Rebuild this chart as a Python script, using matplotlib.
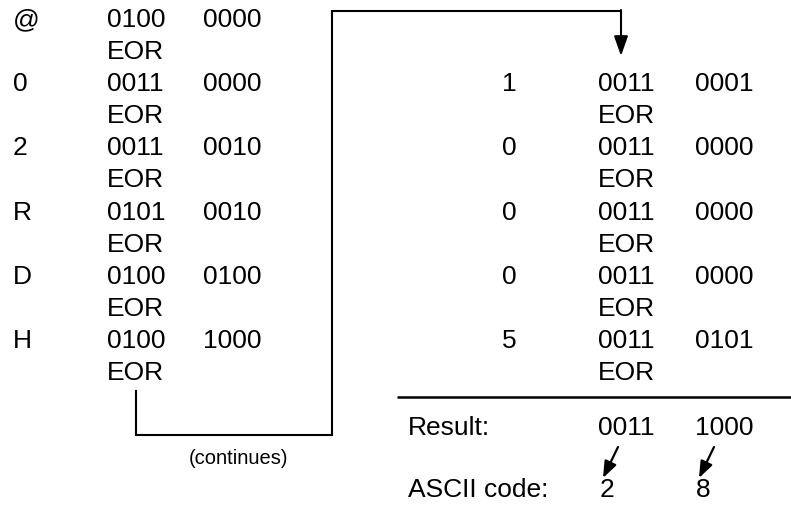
import matplotlib.pyplot as plt

# characters and their two nibbles (left block)
chars = ['@', '0', '2', 'R', 'D', 'H']
high_nibbles = ['0100', '0011', '0011', '0101', '0100', '0100']
low_nibbles = ['0000', '0000', '0010', '0010', '0100', '1000']

# continued block (right)
cont_chars = ['1', '0', '0', '0', '5']
cont_high = ['0011', '0011', '0011', '0011', '0011']
cont_low = ['0001', '0000', '0000', '0000', '0101']

result = ['0011', '1000']
ascii_code = ['2', '8']

plt.rcParams['font.family'] = ['Liberation Sans', 'DejaVu Sans']
fs = 19

fig = plt.figure(figsize=(7.91, 5.08), dpi=100)
ax = fig.add_axes([0, 0, 1, 1])
ax.set_xlim(0, 791)
ax.set_ylim(508, 0)
ax.axis('off')

row_y0 = 27      # baseline of first row
row_step = 64.2
eor_step = 32

# left block
for i, (c, h, l) in enumerate(zip(chars, high_nibbles, low_nibbles)):
    y = row_y0 + i * row_step
    ax.text(13, y, c, fontsize=fs, va='baseline', ha='left')
    ax.text(107, y, h, fontsize=fs, va='baseline', ha='left')
    ax.text(203, y, l, fontsize=fs, va='baseline', ha='left')
    ax.text(107, y + eor_step, 'EOR', fontsize=fs, va='baseline', ha='left')

# right block, starts one row lower
for i, (c, h, l) in enumerate(zip(cont_chars, cont_high, cont_low)):
    y = row_y0 + (i + 1) * row_step
    ax.text(509, y, c, fontsize=fs, va='baseline', ha='center')
    ax.text(598, y, h, fontsize=fs, va='baseline', ha='left')
    ax.text(695, y, l, fontsize=fs, va='baseline', ha='left')
    ax.text(598, y + eor_step, 'EOR', fontsize=fs, va='baseline', ha='left')

# separator line
ax.plot([397, 791], [397, 397], color='black', lw=1.8, solid_capstyle='butt')

# result and ascii rows
ax.text(408, 435, 'Result:', fontsize=fs, va='baseline', ha='left')
ax.text(598, 435, result[0], fontsize=fs, va='baseline', ha='left')
ax.text(695, 435, result[1], fontsize=fs, va='baseline', ha='left')
ax.text(408, 497, 'ASCII code:', fontsize=fs, va='baseline', ha='left')
ax.text(600, 497, ascii_code[0], fontsize=fs, va='baseline', ha='left')
ax.text(696, 497, ascii_code[1], fontsize=fs, va='baseline', ha='left')

small_arrow = dict(arrowstyle='-|>,head_length=1.0,head_width=0.38', lw=1.6,
                   color='black', shrinkA=0, shrinkB=0)
ax.annotate('', xy=(603, 478), xytext=(618, 447), arrowprops=small_arrow)
ax.annotate('', xy=(699, 478), xytext=(714, 447), arrowprops=small_arrow)

# connector from left block to right block
ax.plot([136, 136, 332, 332, 621], [391, 435, 435, 11, 11], color='black',
        lw=1.5, solid_joinstyle='miter')
ax.annotate('', xy=(621, 56), xytext=(621, 10),
            arrowprops=dict(arrowstyle='-|>,head_length=1.2,head_width=0.42',
                            lw=1.5, color='black', shrinkA=0, shrinkB=0))

ax.text(239, 458, '(continues)', fontsize=14.5, va='center', ha='center')

fig.savefig('out.png', dpi=100)
